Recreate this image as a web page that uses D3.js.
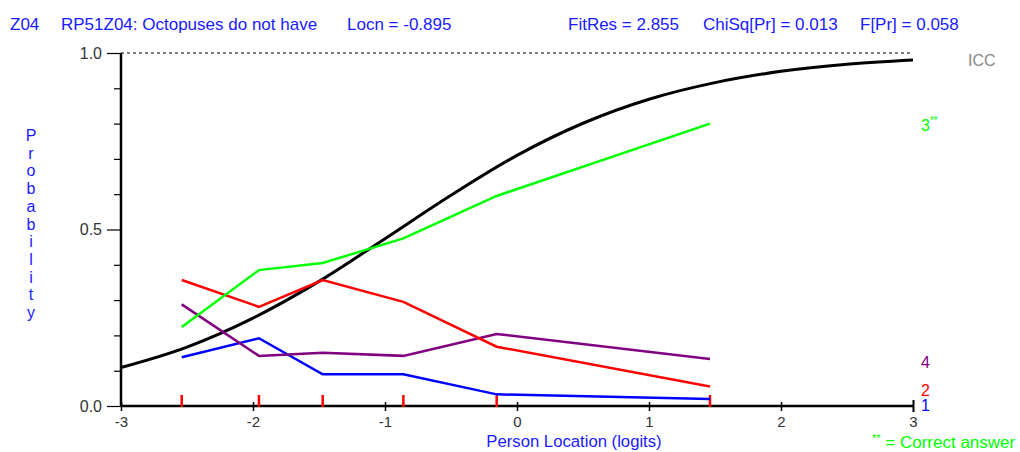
<!DOCTYPE html>
<html>
<head>
<meta charset="utf-8">
<script src="https://cdn.jsdelivr.net/npm/d3@7"></script>
<style>
  html, body { margin: 0; padding: 0; background: #fff; }
  svg { display: block; font-family: "Liberation Sans", Arial, sans-serif; }
</style>
</head>
<body>
<svg id="chart" width="1020" height="452"></svg>
<script>
// ---------- data ----------
const titleParts = ["Z04", "RP51Z04: Octopuses do not have", "Locn = -0.895", "FitRes = 2.855", "ChiSq[Pr] = 0.013", "F[Pr] = 0.058"];
const xTicks = [-3, -2, -1, 0, 1, 2, 3];
const yTicks = [0, 0.1, 0.2, 0.3, 0.4, 0.5, 0.6, 0.7, 0.8, 0.9, 1.0];
const yLabelTicks = [0, 0.5, 1.0];

// class-interval mean locations (red marks)
const classLocs = [-2.54, -1.955, -1.472, -0.861, -0.154, 1.462];
// observed proportions per response option
const opt1 = [0.138, 0.192, 0.090, 0.090, 0.033, 0.020];
const opt2 = [0.357, 0.281, 0.357, 0.295, 0.168, 0.055];
const opt3 = [0.224, 0.385, 0.405, 0.475, 0.595, 0.800];
const opt4 = [0.288, 0.142, 0.151, 0.142, 0.204, 0.133];

// ICC
const iccX = [-3, -2.5, -2, -1.5, -1, -0.5, 0, 0.5, 1, 1.5, 2, 2.5, 3];
const iccY = [0.109, 0.167, 0.249, 0.353, 0.474, 0.597, 0.710, 0.801, 0.869, 0.916, 0.948, 0.968, 0.980];

const seriesNames = ["1", "2", "3", "4"];
const seriesColors = ["#0000ff", "#ff0000", "#00ff00", "#800080"];

// ---------- drawing ----------
const svg = d3.select("#chart");
const x = d3.scaleLinear().domain([-3, 3]).range([121, 913]);
const y = d3.scaleLinear().domain([0, 1]).range([406, 53]);

// title
const titleX = [10, 61, 347, 568, 703, 860];
svg.append("g").selectAll("text").data(titleParts).join("text")
  .attr("x", (d, i) => titleX[i]).attr("y", 30)
  .attr("fill", "#1a1aff").attr("font-size", 17)
  .text(d => d);

// dashed line at 1.0
svg.append("line")
  .attr("x1", x(-3)).attr("x2", x(3)).attr("y1", y(1)).attr("y2", y(1))
  .attr("stroke", "#000").attr("stroke-width", 1).attr("stroke-dasharray", "3,3");

// y axis
const yAxis = d3.axisLeft(y).tickValues(yTicks).tickSize(6)
  .tickFormat(d => yLabelTicks.some(v => Math.abs(v - d) < 1e-9) ? d.toFixed(1) : "");
const gy = svg.append("g").attr("transform", `translate(${x(-3)},0)`).call(yAxis);
gy.select(".domain").attr("stroke-width", 2.5).attr("d", `M0,${y(1)}V${y(0)}`);
gy.selectAll(".tick line").attr("stroke-width", 1.2)
  .attr("x2", d => yLabelTicks.some(v => Math.abs(v - d) < 1e-9) ? -14 : -7);
gy.selectAll(".tick text").attr("x", -19).attr("font-size", 16).attr("fill", "#333")
  .attr("font-family", "Liberation Sans, Arial, sans-serif");

// x axis
const xAxis = d3.axisBottom(x).tickValues(xTicks).tickSize(5).tickFormat(d => String(d));
const gx = svg.append("g").attr("transform", `translate(0,${y(0)})`).call(xAxis);
gx.select(".domain").attr("stroke-width", 2.5).attr("d", `M${x(-3)},0H${x(3)}`);
gx.selectAll(".tick line").attr("y1", -4).attr("y2", 5).attr("stroke-width", 1.5);
gx.selectAll(".tick").filter(d => d === 3).select("line").attr("y1", -6).attr("y2", 6).attr("stroke-width", 2);
gx.selectAll(".tick text").attr("y", 10).attr("font-size", 15).attr("fill", "#333")
  .attr("font-family", "Liberation Sans, Arial, sans-serif");

// axis titles
svg.append("text").attr("x", 574).attr("y", 447).attr("text-anchor", "middle")
  .attr("fill", "#1a1aff").attr("font-size", 16.7).text("Person Location (logits)");

const yTitle = "Probability".split("");
svg.append("g").selectAll("text").data(yTitle).join("text")
  .attr("x", 31).attr("y", (d, i) => 141 + i * 17.7)
  .attr("text-anchor", "middle").attr("fill", "#1a1aff").attr("font-size", 16)
  .text(d => d);

// red class-interval marks
svg.append("g").selectAll("line").data(classLocs).join("line")
  .attr("x1", d => x(d)).attr("x2", d => x(d))
  .attr("y1", y(0) - 11).attr("y2", y(0) + 1)
  .attr("stroke", "#ff0000").attr("stroke-width", 2.5);

// ICC
const iccData = iccX.map((v, i) => [v, iccY[i]]);
svg.append("path").datum(iccData)
  .attr("fill", "none").attr("stroke", "#000").attr("stroke-width", 3)
  .attr("d", d3.line().x(d => x(d[0])).y(d => y(d[1])).curve(d3.curveMonotoneX));

// observed option lines
const options = [opt1, opt2, opt3, opt4];
const lineGen = d3.line().x(d => x(d[0])).y(d => y(d[1]));
const drawOrder = [0, 3, 1, 2];
drawOrder.forEach(k => {
  svg.append("path").datum(classLocs.map((c, i) => [c, options[k][i]]))
    .attr("fill", "none").attr("stroke", seriesColors[k]).attr("stroke-width", 2.5)
    .attr("d", lineGen);
});

// right-side labels
svg.append("text").attr("x", 968).attr("y", 66).attr("fill", "#888").attr("font-size", 16).text("ICC");
const rightLab = [
  {t: "3", c: seriesColors[2], yy: 131, sup: true},
  {t: "4", c: seriesColors[3], yy: 368},
  {t: "2", c: seriesColors[1], yy: 396},
  {t: "1", c: seriesColors[0], yy: 411}
];
rightLab.forEach(l => {
  const t = svg.append("text").attr("x", 921).attr("y", l.yy).attr("fill", l.c).attr("font-size", 16).text(l.t);
  if (l.sup) t.append("tspan").attr("font-size", 10).attr("dy", -7).text("**");
});

// footnote
const fn = svg.append("text").attr("x", 872).attr("y", 448).attr("fill", "#00ff00").attr("font-size", 17);
fn.append("tspan").attr("font-size", 11).attr("dy", -6).text("**");
fn.append("tspan").attr("dy", 6).text(" = Correct answer");
</script>
</body>
</html>
